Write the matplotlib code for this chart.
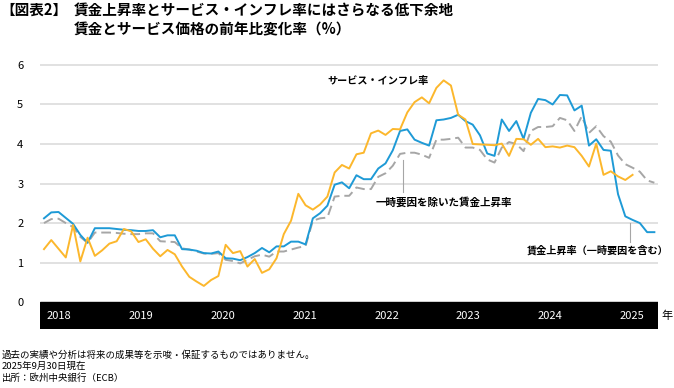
import matplotlib
matplotlib.use("Agg")
import matplotlib.pyplot as plt
import numpy as np

plt.rcParams['font.family'] = ['Noto Sans CJK JP', 'DejaVu Sans']

# monthly series (index 0 = first month shown)
services = [1.34, 1.57, 1.35, 1.13, 1.95, 1.03, 1.63, 1.17, 1.31, 1.48, 1.54, 1.85, 1.79, 1.52, 1.59,
            1.35, 1.16, 1.32, 1.21, 0.90, 0.64, 0.52, 0.41, 0.56, 0.66, 1.45, 1.24, 1.29, 0.90, 1.09,
            0.74, 0.83, 1.11, 1.72, 2.06, 2.74, 2.45, 2.34, 2.47, 2.67, 3.28, 3.47, 3.38, 3.74, 3.78,
            4.27, 4.34, 4.23, 4.38, 4.37, 4.80, 5.06, 5.18, 5.03, 5.42, 5.61, 5.48, 4.74, 4.62, 4.00,
            3.99, 3.98, 3.97, 4.01, 3.70, 4.13, 4.12, 3.98, 4.13, 3.92, 3.94, 3.91, 3.96, 3.92, 3.70,
            3.43, 4.01, 3.22, 3.31, 3.18, 3.09, 3.22]
wages = [2.12, 2.27, 2.28, 2.13, 1.98, 1.70, 1.50, 1.87, 1.87, 1.87, 1.85, 1.83, 1.82, 1.80, 1.80,
         1.82, 1.64, 1.69, 1.69, 1.34, 1.33, 1.30, 1.24, 1.23, 1.28, 1.11, 1.10, 1.06, 1.14, 1.24,
         1.37, 1.26, 1.41, 1.41, 1.53, 1.53, 1.46, 2.12, 2.25, 2.44, 2.97, 3.03, 2.88, 3.21, 3.11,
         3.11, 3.38, 3.51, 3.84, 4.33, 4.37, 4.11, 4.03, 3.96, 4.60, 4.62, 4.66, 4.74, 4.58, 4.49,
         4.22, 3.76, 3.70, 4.62, 4.33, 4.58, 4.13, 4.79, 5.14, 5.11, 5.00, 5.24, 5.23, 4.85, 4.97,
         3.96, 4.12, 3.85, 3.83, 2.73, 2.17, 2.08, 2.00, 1.77, 1.77]
wages_ex = [2.00, 2.10, 2.11, 2.00, 1.90, 1.65, 1.50, 1.76, 1.76, 1.76, 1.75, 1.73, 1.72, 1.72, 1.74,
            1.74, 1.54, 1.53, 1.52, 1.36, 1.33, 1.28, 1.23, 1.22, 1.24, 1.07, 1.04, 0.98, 1.07, 1.16,
            1.20, 1.15, 1.28, 1.28, 1.33, 1.38, 1.42, 2.06, 2.12, 2.14, 2.67, 2.69, 2.69, 2.90, 2.86,
            2.86, 3.17, 3.26, 3.45, 3.75, 3.78, 3.78, 3.73, 3.65, 4.11, 4.11, 4.13, 4.16, 3.91, 3.91,
            3.85, 3.61, 3.53, 3.91, 4.05, 4.00, 3.82, 4.33, 4.43, 4.43, 4.45, 4.66, 4.60, 4.33, 4.70,
            4.28, 4.45, 4.20, 4.06, 3.71, 3.49, 3.40, 3.30, 3.08, 3.02]
years = ["2018", "2019", "2020", "2021", "2022", "2023", "2024", "2025"]
yticks = [0, 1, 2, 3, 4, 5, 6]

BLUE = "#1e9ad6"
YELLOW = "#fcb72c"
GRAY = "#a6a6a6"

W, H = 674, 388
fig = plt.figure(figsize=(W / 100, H / 100), dpi=100)
# axes box in pixels: x 40..658, y 61..329
ax = fig.add_axes([40 / W, 1 - 329 / H, 618 / W, 268 / H])
ax.set_xlim(-0.55, 84.5)
ax.set_ylim(-0.68, 6.1)

for y in yticks[1:]:
    ax.axhline(y, color="#dcdcdc", lw=1.2, zorder=1)
ax.axhspan(-0.68, 0, color="black", zorder=2)

ax.plot(np.arange(len(wages_ex)), wages_ex, color=GRAY, lw=1.4,
        dashes=(5, 2.5), zorder=3)
ax.plot(np.arange(len(wages)), wages, color=BLUE, lw=1.4, zorder=4)
ax.plot(np.arange(len(services)), services, color=YELLOW, lw=1.4, zorder=5)

ax.set_yticks(yticks)
ax.set_yticklabels([str(v) for v in yticks], fontsize=8)
ax.tick_params(axis="y", length=0, pad=12)
ax.set_xticks([])
for s in ax.spines.values():
    s.set_visible(False)

# year labels inside the black band
for k, yr in enumerate(years):
    ax.text(2.06 + 11.27 * k, -0.34, yr, color="white", fontsize=8,
            ha="center", va="center", zorder=6)
ax.text(85.8, -0.34, "年", fontsize=8, ha="center", va="center", clip_on=False)

# series labels and leaders
ax.text(39.0, 5.6, "サービス・インフレ率", fontsize=7.3, fontweight="bold",
        ha="left", va="center")
ax.plot([49.4, 49.4], [3.6, 2.78], color=GRAY, lw=0.8, zorder=3)
ax.text(55.1, 2.52, "一時要因を除いた賃金上昇率", fontsize=7.6, fontweight="bold",
        ha="center", va="center")
ax.plot([80.7, 80.7], [2.0, 1.52], color=GRAY, lw=0.8, zorder=3)
ax.text(76.2, 1.3, "賃金上昇率（一時要因を含む）", fontsize=7.3, fontweight="bold",
        ha="center", va="center", clip_on=False)

# titles
fig.text(0 / W, 1 - 10 / H, "【図表2】", fontsize=10.5, fontweight="bold",
         ha="left", va="center")
fig.text(74 / W, 1 - 10 / H, "賃金上昇率とサービス・インフレ率にはさらなる低下余地",
         fontsize=10.5, fontweight="bold", ha="left", va="center")
fig.text(74 / W, 1 - 29 / H, "賃金とサービス価格の前年比変化率（%）",
         fontsize=10.5, fontweight="bold", ha="left", va="center")

# footer
foot = ["過去の実績や分析は将来の成果等を示唆・保証するものではありません。",
        "2025年9月30日現在",
        "出所：欧州中央銀行（ECB）"]
for i, line in enumerate(foot):
    fig.text(2 / W, 1 - (355 + 11.5 * i) / H, line, fontsize=6.8,
             ha="left", va="center")

fig.savefig("out.png", dpi=100)
